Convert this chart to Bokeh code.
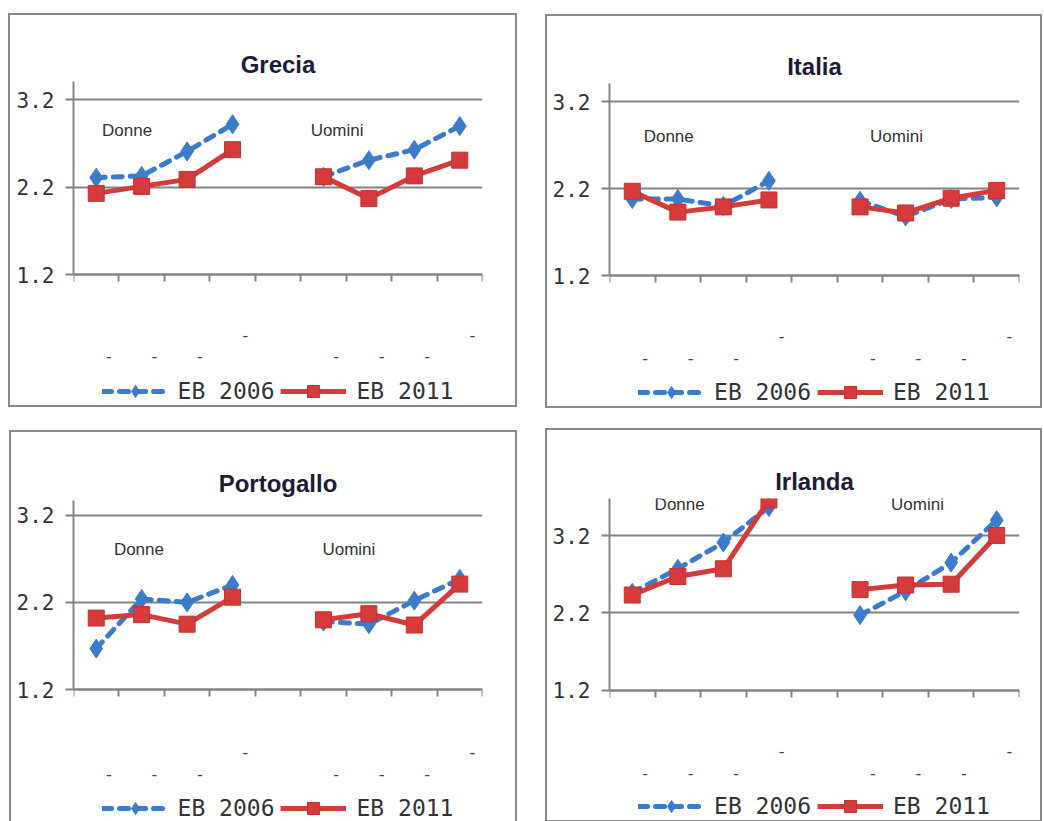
from bokeh.plotting import figure
from bokeh.models import Range1d, FixedTicker, Legend, LegendItem
from bokeh.embed import file_html
from bokeh.resources import INLINE
from bokeh.core.properties import value

nan = float("nan")

# ---------------- data ----------------
countries = ["Grecia", "Italia", "Portogallo", "Irlanda"]
x_pos = [1, 2, 3, 4, 5, 6, 7, 8, 9]
tick_labels = ["-", "-", "-", "-", "", "-", "-", "-", "-"]
tick_rows = [2, 2, 2, 1, 0, 2, 2, 2, 1]
groups = ["Donne", "Uomini"]
series_names = ["EB 2006", "EB 2011"]
y_ticks = [1.2, 2.2, 3.2]

grecia_2006 = [2.31, 2.33, 2.61, 2.92, nan, 2.32, 2.51, 2.63, 2.90]
grecia_2011 = [2.13, 2.21, 2.29, 2.63, nan, 2.32, 2.07, 2.33, 2.51]
italia_2006 = [2.08, 2.08, 2.00, 2.29, nan, 2.06, 1.88, 2.08, 2.10]
italia_2011 = [2.17, 1.93, 1.99, 2.07, nan, 1.99, 1.92, 2.09, 2.18]
portogallo_2006 = [1.67, 2.24, 2.20, 2.40, nan, 1.98, 1.95, 2.22, 2.47]
portogallo_2011 = [2.02, 2.06, 1.95, 2.26, nan, 2.00, 2.07, 1.94, 2.41]
irlanda_2006 = [2.46, 2.77, 3.11, 3.57, nan, 2.17, 2.48, 2.85, 3.40]
irlanda_2011 = [2.43, 2.67, 2.77, 3.66, nan, 2.50, 2.56, 2.57, 3.20]

values = {
    "Grecia": (grecia_2006, grecia_2011),
    "Italia": (italia_2006, italia_2011),
    "Portogallo": (portogallo_2006, portogallo_2011),
    "Irlanda": (irlanda_2006, irlanda_2011),
}

# ---------------- layout / style (not data) ----------------
panel_cfg = {
    "Grecia":     dict(left=8, top=13, w=509, h=394, bl=63, br=37, bt=66,
                       ymin=-0.32, ymax=3.41, gx=[1.68, 6.30], gy=2.85,
                       dash_y={1: 0.51, 2: 0.27}),
    "Italia":     dict(left=545, top=14, w=497, h=394, bl=62, br=25, bt=67,
                       ymin=-0.33, ymax=3.41, gx=[1.80, 6.80], gy=2.80,
                       dash_y={1: 0.50, 2: 0.25}),
    "Portogallo": dict(left=9, top=430, w=508, h=394, bl=62, br=37, bt=68,
                       ymin=-0.35, ymax=3.37, gx=[1.94, 6.56], gy=2.81,
                       dash_y={1: 0.48, 2: 0.235}),
    "Irlanda":    dict(left=545, top=428, w=497, h=394, bl=62, br=25, bt=68,
                       ymin=-0.515, ymax=3.68, gx=[2.04, 7.26], gy=3.60,
                       dash_y={1: 0.41, 2: 0.13}),
}
DASH_SHIFT = 0.28

BLUE = "#3b7bcc"
RED = "#d63b3b"
GRAY = "#848484"
TXT = "#333333"


def make_panel(name):
    c = panel_cfg[name]
    y06, y11 = values[name]
    p = figure(width=c["w"], height=c["h"],
               x_range=Range1d(0.5, 9.5), y_range=Range1d(c["ymin"], c["ymax"]),
               x_axis_location="above",
               output_backend="svg", toolbar_location=None,
               min_border_left=c["bl"], min_border_right=c["br"],
               min_border_top=c["bt"], min_border_bottom=2,
               title=name)
    p.styles = {"position": "absolute", "left": f"{c['left']}px",
                "top": f"{c['top']}px", "border": "2px solid #8a8a8a"}
    p.outline_line_color = None

    p.title.align = "center"
    p.title.text_font = "Liberation Sans"
    p.title.text_font_style = "bold"
    p.title.text_font_size = "24px"
    p.title.text_color = "#1c1c38"
    p.title.standoff = 8

    # horizontal grid
    p.xgrid.visible = False
    p.ygrid.ticker = FixedTicker(ticks=y_ticks)
    p.ygrid.grid_line_color = GRAY
    p.ygrid.grid_line_width = 2

    # y axis (line only from 1.2 upward)
    ya = p.yaxis[0]
    ya.ticker = FixedTicker(ticks=y_ticks)
    ya.bounds = (1.2, c["ymax"])
    ya.axis_line_color = GRAY
    ya.axis_line_width = 2
    ya.major_tick_line_color = GRAY
    ya.major_tick_line_width = 2
    ya.major_tick_out = 8
    ya.major_tick_in = 0
    ya.minor_tick_line_color = None
    ya.major_label_standoff = 11
    ya.major_label_text_font = "DejaVu Sans Mono"
    ya.major_label_text_font_size = "21px"
    ya.major_label_text_color = TXT

    # x axis drawn at y = 1.2, ticks between categories pointing down
    xa = p.xaxis[0]
    xa.fixed_location = 1.2
    xa.ticker = FixedTicker(ticks=[i + 0.5 for i in range(10)])
    xa.axis_line_color = GRAY
    xa.axis_line_width = 2
    xa.major_tick_line_color = GRAY
    xa.major_tick_line_width = 2
    xa.major_tick_out = 0
    xa.major_tick_in = 7
    xa.minor_tick_line_color = None
    xa.major_label_overrides = {i + 0.5: "" for i in range(10)}
    xa.major_label_text_font_size = "4px"
    xa.major_label_standoff = 0

    # category labels (small dashes)
    lab_x = [x + DASH_SHIFT for x, r in zip(x_pos, tick_rows) if r]
    lab_y = [c["dash_y"][r] for r in tick_rows if r]
    lab_t = [t for t, r in zip(tick_labels, tick_rows) if r]
    p.text(x=lab_x, y=lab_y, text=lab_t, text_align="center",
           text_baseline="middle", text_font=value("DejaVu Sans"),
           text_font_size="16px", text_color="#444444")

    # series
    l06 = p.line(x_pos, y06, line_color=BLUE, line_width=5, line_dash="9 8",
                 line_cap="round")
    s06 = p.scatter(x_pos, y06, marker="diamond", size=19,
                    fill_color=BLUE, line_color=BLUE)
    l11 = p.line(x_pos, y11, line_color=RED, line_width=5)
    s11 = p.scatter(x_pos, y11, marker="square", size=16,
                    fill_color=RED, line_color="#c23232")

    # group labels
    p.text(x=c["gx"], y=[c["gy"]] * len(groups), text=groups, text_align="center",
           text_baseline="middle", text_font=value("Liberation Sans"),
           text_font_size="17px", text_color=TXT)

    legend = Legend(items=[LegendItem(label=series_names[0], renderers=[l06, s06]),
                           LegendItem(label=series_names[1], renderers=[l11, s11])],
                    orientation="horizontal", location="bottom_center",
                    glyph_width=66, glyph_height=30, label_standoff=10,
                    spacing=6, padding=0, margin=1,
                    border_line_color=None, background_fill_alpha=0,
                    label_text_font="DejaVu Sans Mono",
                    label_text_font_size="23px", label_text_color=TXT)
    p.add_layout(legend)
    return p


panels = [make_panel(n) for n in countries]
open("out.html", "w").write(file_html(panels, INLINE))
